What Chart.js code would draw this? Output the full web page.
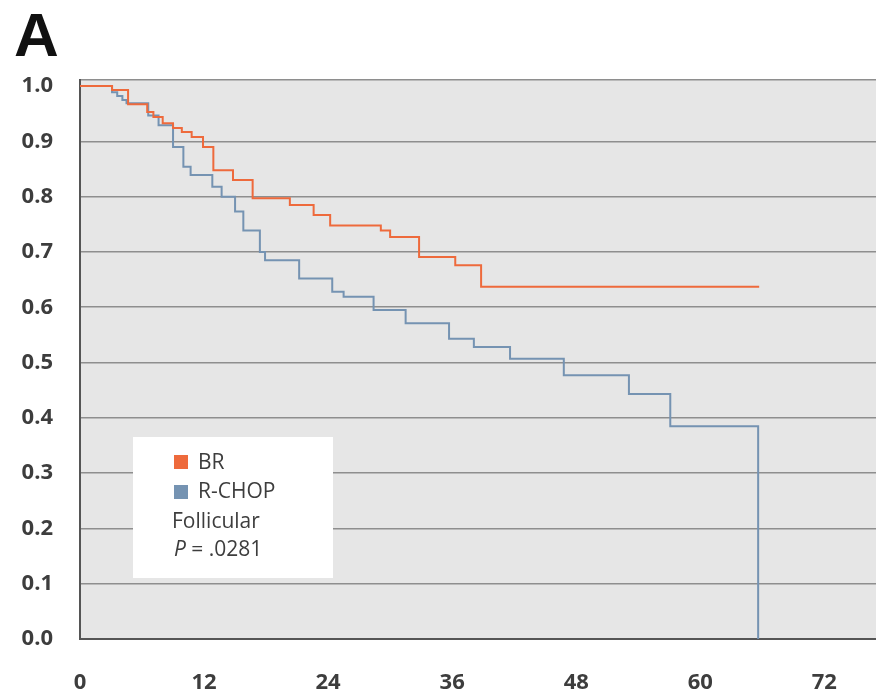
<!DOCTYPE html>
<html>
<head>
<meta charset="utf-8">
<script src="https://cdn.jsdelivr.net/npm/chart.js@4.4.1/dist/chart.umd.min.js"></script>
<style>
  body { margin: 0; background: #fff; }
  #wrap { width: 876px; height: 699px; position: relative; }
</style>
</head>
<body>
<div id="wrap"><canvas id="km"></canvas></div>
<script>
// Kaplan-Meier steps: [month, survival]
const brMonths    = [0, 3.1, 4.65, 6.5, 7.1, 8.0, 9.0, 9.85, 10.8, 11.9, 12.9, 14.8, 16.7, 20.3, 22.6, 24.2, 29.1, 30.0, 32.8, 36.3, 38.8, 65.7];
const brSurvival  = [1.0, 0.993, 0.967, 0.953, 0.944, 0.933, 0.924, 0.917, 0.908, 0.890, 0.848, 0.830, 0.797, 0.785, 0.767, 0.748, 0.739, 0.727, 0.691, 0.676, 0.637, 0.637];

const rchopMonths   = [0, 3.1, 3.6, 4.1, 4.5, 6.6, 7.6, 9.0, 10.0, 10.7, 12.8, 13.7, 15.0, 15.8, 17.4, 17.9, 21.2, 24.4, 25.5, 28.4, 31.5, 35.7, 38.1, 41.6, 46.8, 53.1, 57.1, 65.6];
const rchopSurvival = [1.0, 0.989, 0.982, 0.975, 0.969, 0.947, 0.929, 0.890, 0.854, 0.839, 0.818, 0.800, 0.773, 0.739, 0.700, 0.685, 0.652, 0.628, 0.619, 0.595, 0.571, 0.543, 0.528, 0.507, 0.477, 0.443, 0.385, 0.0];

const xTicks = [0, 12, 24, 36, 48, 60, 72];
const yTicks = [0, 0.1, 0.2, 0.3, 0.4, 0.5, 0.6, 0.7, 0.8, 0.9, 1.0];
const yTop = 1.011; // frame line sits a little above 1.0
const legendLines = ['BR', 'R-CHOP', 'Follicular', '.0281'];

const BR_COLOR = '#ee6a3c';
const RCHOP_COLOR = '#7593b2';
const TEXT_COLOR = '#3d3d3d';

function pairs(xs, ys){
  return xs.map((x, i) => ({x: x, y: ys[i]}));
}

const plotBg = {
  id: 'plotBg',
  beforeDraw(chart){
    const {ctx, chartArea: a} = chart;
    ctx.save();
    ctx.fillStyle = '#e6e6e6';
    ctx.fillRect(a.left, a.top, a.right - a.left, a.bottom - a.top);
    ctx.restore();
  }
};

const panelLabel = {
  id: 'panelLabel',
  afterDraw(chart){
    const ctx = chart.ctx;
    ctx.save();
    ctx.fillStyle = '#111';
    ctx.font = 'bold 62px "Liberation Sans", Arial, sans-serif';
    ctx.textBaseline = 'alphabetic';
    ctx.fillText('A', 14, 56);
    ctx.restore();
  }
};

const kmLegend = {
  id: 'kmLegend',
  afterDatasetsDraw(chart){
    const {ctx, chartArea: a} = chart;
    const left = a.left + 53, top = a.top + 357;
    ctx.save();
    ctx.fillStyle = '#fff';
    ctx.fillRect(left, top, 200, 141);
    ctx.font = '21px "Open Sans", sans-serif';
    ctx.textBaseline = 'middle';
    ctx.fillStyle = BR_COLOR;
    ctx.fillRect(left + 41, top + 18, 14, 14);
    ctx.fillStyle = RCHOP_COLOR;
    ctx.fillRect(left + 41, top + 48, 14, 14);
    ctx.fillStyle = TEXT_COLOR;
    ctx.fillText(legendLines[0], left + 65, top + 26);
    ctx.fillText(legendLines[1], left + 65, top + 55);
    ctx.fillText(legendLines[2], left + 39, top + 85);
    ctx.font = 'italic 21px "Open Sans", sans-serif';
    ctx.fillText('P', left + 41, top + 113);
    const pw = ctx.measureText('P').width;
    ctx.font = '21px "Open Sans", sans-serif';
    ctx.fillText(' = ' + legendLines[3], left + 41 + pw, top + 113);
    ctx.restore();
  }
};

const tickFont = { family: '"Open Sans", sans-serif', size: 22, weight: '700' };

const config = {
  type: 'line',
  data: {
    datasets: [
      {
        label: 'BR',
        data: pairs(brMonths, brSurvival),
        borderColor: BR_COLOR,
        borderWidth: 2,
        stepped: 'before',
        pointRadius: 0,
        fill: false
      },
      {
        label: 'R-CHOP',
        data: pairs(rchopMonths, rchopSurvival),
        borderColor: RCHOP_COLOR,
        borderWidth: 2,
        stepped: 'before',
        pointRadius: 0,
        fill: false
      }
    ]
  },
  options: {
    responsive: true,
    maintainAspectRatio: false,
    animation: false,
    layout: { padding: { top: 80, left: 0, right: 0, bottom: 0 } },
    plugins: {
      legend: { display: false },
      tooltip: { enabled: false },
      title: { display: false }
    },
    scales: {
      x: {
        type: 'linear',
        min: 0,
        max: 77,
        afterBuildTicks: s => { s.ticks = xTicks.map(v => ({value: v})); },
        afterFit: s => { s.height = 60; },
        grid: { display: false, drawTicks: false },
        border: { display: true, color: '#555', width: 2 },
        ticks: { padding: 31, color: TEXT_COLOR, font: tickFont, maxRotation: 0 }
      },
      y: {
        min: 0,
        max: yTop,
        afterBuildTicks: s => { s.ticks = yTicks.concat([yTop]).map(v => ({value: v})); },
        afterFit: s => { s.width = 80; },
        grid: {
          drawTicks: false,
          lineWidth: 1.5,
          color: c => (c.tick && Math.abs(c.tick.value - 1) < 1e-6) ? 'rgba(0,0,0,0)' : '#8e8e8e'
        },
        border: { display: true, color: '#555', width: 2 },
        ticks: {
          padding: 27,
          color: TEXT_COLOR,
          font: tickFont,
          callback: v => yTicks.some(t => Math.abs(t - v) < 1e-6) ? v.toFixed(1) : ''
        }
      }
    }
  },
  plugins: [plotBg, kmLegend, panelLabel]
};

new Chart(document.getElementById('km').getContext('2d'), config);
</script>
</body>
</html>
